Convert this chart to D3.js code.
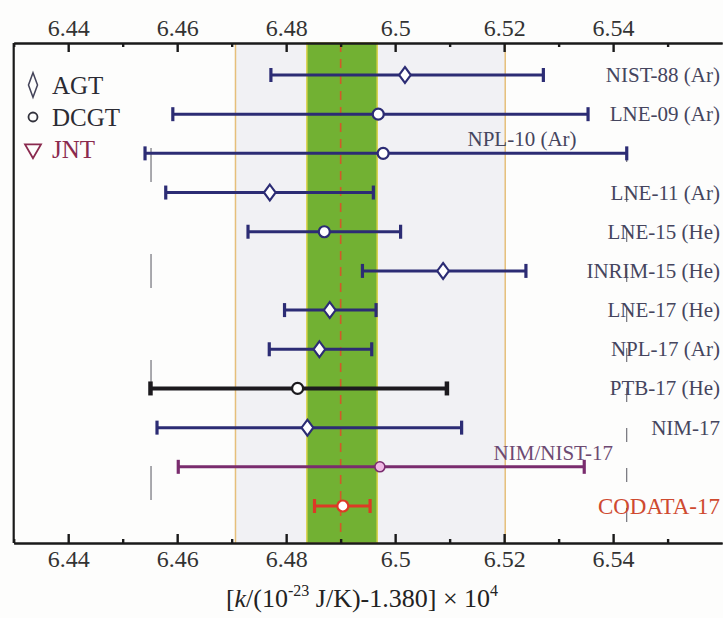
<!DOCTYPE html>
<html>
<head>
<meta charset="utf-8">
<script src="https://cdn.jsdelivr.net/npm/d3@7"></script>
<style>
  body { margin: 0; background: #fdfdfc; }
  svg { display: block; font-family: "Liberation Serif", "DejaVu Serif", serif; }
</style>
</head>
<body>
<svg id="chart" width="723" height="618"></svg>
<script>
let names = ["NIST-88 (Ar)", "LNE-09 (Ar)", "NPL-10 (Ar)", "LNE-11 (Ar)", "LNE-15 (He)", "INRIM-15 (He)",
             "LNE-17 (He)", "NPL-17 (Ar)", "PTB-17 (He)", "NIM-17", "NIM/NIST-17", "CODATA-17"];
let values = [6.5018, 6.4969, 6.4978, 6.4770, 6.4870, 6.5088, 6.4880, 6.4861, 6.4821, 6.4839, 6.4972, 6.4904];
let lower  = [6.4772, 6.4592, 6.4541, 6.4579, 6.4730, 6.4940, 6.4797, 6.4769, 6.4551, 6.4563, 6.4602, 6.4852];
let upper  = [6.5272, 6.5354, 6.5425, 6.4960, 6.5010, 6.5240, 6.4965, 6.4957, 6.5095, 6.5122, 6.5347, 6.4954];
let methods = ["AGT", "DCGT", "DCGT", "AGT", "DCGT", "AGT", "AGT", "AGT", "DCGT", "AGT", "JNT", "CODATA"];
let labelAbove = ["NPL-10 (Ar)", "NIM/NIST-17"];

let legendItems = ["AGT", "DCGT", "JNT"];
let majorTicks = [6.44, 6.46, 6.48, 6.5, 6.52, 6.54];
let minorTicks = [6.43, 6.45, 6.47, 6.49, 6.51, 6.53, 6.55];

let codataValue = 6.49;
let codataBand = [6.4838, 6.4967];
let wideBand = [6.4707, 6.5202];
let guideLines = [6.4552, 6.5425];

let svg = d3.select("#chart");

let plotTop = 43, plotBottom = 543;
let x = d3.scaleLinear().domain([6.43, 6.56]).range([13.7, 722.1]);
let y = d3.scalePoint().domain(names).range([75, 506]);

let colorOf = (name) => {
    if (name === "PTB-17 (He)") return "#1c1a1e";
    if (name === "NIM/NIST-17") return "#7a2c6e";
    if (name === "CODATA-17") return "#dc3a26";
    return "#2c2c74";
}
let labelColor = (name) => {
    if (name === "CODATA-17") return "#cf4a30";
    if (name === "NIM/NIST-17") return "#6d4a72";
    return "#45455e";
}

// shaded bands
svg.append("rect")
   .attr("x", x(wideBand[0])).attr("y", plotTop)
   .attr("width", x(wideBand[1]) - x(wideBand[0])).attr("height", plotBottom - plotTop)
   .attr("fill", "#f1f1f4")
svg.selectAll(".edge")
   .data(wideBand)
   .enter()
   .append("line")
   .attr("x1", d => x(d)).attr("x2", d => x(d))
   .attr("y1", plotTop).attr("y2", plotBottom)
   .attr("stroke", "#e6bf7a")
   .attr("stroke-width", 1.5)
svg.append("rect")
   .attr("x", x(codataBand[0])).attr("y", plotTop)
   .attr("width", x(codataBand[1]) - x(codataBand[0])).attr("height", plotBottom - plotTop)
   .attr("fill", "#72b133")
   .attr("stroke", "#d9d24a")
   .attr("stroke-width", 1.5)
svg.append("line")
   .attr("x1", x(codataValue)).attr("x2", x(codataValue))
   .attr("y1", plotTop).attr("y2", plotBottom)
   .attr("stroke", "#d2592a")
   .attr("stroke-width", 1.6)
   .attr("stroke-dasharray", "9,7")

// faint dashed guides
svg.selectAll(".guide")
   .data(guideLines)
   .enter()
   .append("line")
   .attr("x1", d => x(d)).attr("x2", d => x(d))
   .attr("y1", plotTop + 105).attr("y2", plotBottom)
   .attr("stroke", "#55555f")
   .attr("stroke-width", 1)
   .attr("stroke-dasharray", (d, i) => i === 0 ? "34,72" : "14,26")

// axes, ticks pointing inwards
let fmt = d => String(+d.toFixed(2));
let topAxis = d3.axisTop(x).tickValues(majorTicks).tickFormat(fmt).tickSizeInner(-9).tickSizeOuter(0).tickPadding(7);
let topMinor = d3.axisTop(x).tickValues(minorTicks).tickFormat("").tickSizeInner(-4).tickSizeOuter(0);
let bottomAxis = d3.axisBottom(x).tickValues(majorTicks).tickFormat(fmt).tickSizeInner(-9).tickSizeOuter(0).tickPadding(7);
let bottomMinor = d3.axisBottom(x).tickValues(minorTicks).tickFormat("").tickSizeInner(-4).tickSizeOuter(0);

[[topAxis, plotTop], [topMinor, plotTop], [bottomAxis, plotBottom], [bottomMinor, plotBottom]].forEach(([ax, pos]) => {
    let g = svg.append("g").attr("transform", `translate(0, ${pos})`).call(ax)
       .attr("font-family", "Liberation Serif")
    g.select(".domain").attr("stroke", "#1a1a1a").attr("stroke-width", 2.2)
    g.selectAll(".tick line").attr("stroke", "#1a1a1a").attr("stroke-width", 2.4)
    g.selectAll(".tick text").attr("font-size", 24).attr("fill", "#333")
})
svg.append("line")
   .attr("x1", x(6.43)).attr("x2", x(6.43))
   .attr("y1", plotTop).attr("y2", plotBottom)
   .attr("stroke", "#1a1a1a").attr("stroke-width", 2.2)

// error bars
let rows = svg.selectAll(".row")
   .data(names)
   .enter()
   .append("g")
   .attr("class", "row")

rows.append("line")
    .attr("x1", (d, i) => x(lower[i])).attr("x2", (d, i) => x(upper[i]))
    .attr("y1", d => y(d)).attr("y2", d => y(d))
    .attr("stroke", d => colorOf(d))
    .attr("stroke-width", d => d === "PTB-17 (He)" ? 4 : 3)
rows.selectAll(".cap")
    .data((d, i) => [lower[i], upper[i]].map(v => ({ v: v, name: d })))
    .enter()
    .append("line")
    .attr("x1", c => x(c.v)).attr("x2", c => x(c.v))
    .attr("y1", c => y(c.name) - 7).attr("y2", c => y(c.name) + 7)
    .attr("stroke", c => colorOf(c.name))
    .attr("stroke-width", c => c.name === "PTB-17 (He)" ? 4.5 : 3.2)

// markers
let diamond = d3.symbol().type(d3.symbolDiamond).size(90);
rows.each(function (d, i) {
    let g = d3.select(this)
    let cx = x(values[i]), cy = y(d)
    if (methods[i] === "AGT") {
        g.append("path")
         .attr("d", diamond())
         .attr("transform", `translate(${cx}, ${cy}) scale(1.15, 0.9)`)
         .attr("fill", "#fff")
         .attr("stroke", colorOf(d))
         .attr("stroke-width", 2)
    } else if (methods[i] === "JNT") {
        g.append("circle")
         .attr("cx", cx).attr("cy", cy).attr("r", 5)
         .attr("fill", "#f0b8e4")
         .attr("stroke", colorOf(d))
         .attr("stroke-width", 1.6)
    } else {
        g.append("circle")
         .attr("cx", cx).attr("cy", cy).attr("r", 5.5)
         .attr("fill", "#fff")
         .attr("stroke", colorOf(d))
         .attr("stroke-width", 2.2)
    }
})

// labels
rows.append("text")
    .attr("x", (d, i) => labelAbove.includes(d) ? (d === "NIM/NIST-17" ? 613 : 522) : 720)
    .attr("y", d => labelAbove.includes(d) ? y(d) - 14 : y(d))
    .attr("text-anchor", d => d === "NPL-10 (Ar)" ? "middle" : "end")
    .attr("dominant-baseline", "central")
    .attr("font-size", d => d === "CODATA-17" ? 23 : 21)
    .attr("fill", d => labelColor(d))
    .text(d => d)

// legend
let legend = svg.append("g").attr("id", "legend")
legendItems.forEach((m, i) => {
    let ly = 85 + i * 32
    let col = m === "JNT" ? "#8a2a4e" : "#2b2b33"
    if (m === "AGT") {
        legend.append("path").attr("d", d3.symbol().type(d3.symbolDiamond).size(110)())
              .attr("transform", `translate(33, ${ly}) scale(0.8, 1.25)`)
              .attr("fill", "none").attr("stroke", "#44445a").attr("stroke-width", 1.8)
    } else if (m === "DCGT") {
        legend.append("circle").attr("cx", 33).attr("cy", ly).attr("r", 4.5)
              .attr("fill", "none").attr("stroke", "#33333d").attr("stroke-width", 1.8)
    } else {
        legend.append("path").attr("d", d3.symbol().type(d3.symbolTriangle).size(110)())
              .attr("transform", `translate(33, ${ly}) rotate(180)`)
              .attr("fill", "none").attr("stroke", col).attr("stroke-width", 1.8)
    }
    legend.append("text")
          .attr("x", 52).attr("y", ly)
          .attr("dominant-baseline", "central")
          .attr("font-size", 25)
          .attr("fill", col)
          .text(m)
})

// x axis title
let title = svg.append("text")
   .attr("x", 362).attr("y", 607)
   .attr("text-anchor", "middle")
   .attr("font-size", 26)
   .attr("fill", "#222")
title.append("tspan").text("[")
title.append("tspan").attr("font-style", "italic").text("k")
title.append("tspan").text("/(10")
title.append("tspan").attr("dy", -11).attr("font-size", 16).text("-23")
title.append("tspan").attr("dy", 11).text(" J/K)-1.380] \u00d7 10")
title.append("tspan").attr("dy", -11).attr("font-size", 16).text("4")
</script>
</body>
</html>
